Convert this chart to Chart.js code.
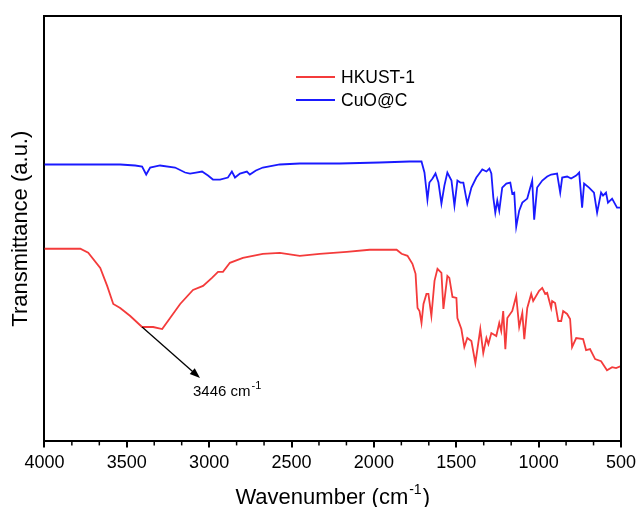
<!DOCTYPE html>
<html>
<head>
<meta charset="utf-8">
<script src="https://cdn.jsdelivr.net/npm/chart.js@4"></script>
<style>
  html, body { margin: 0; padding: 0; background: #fff; }
  #wrap { width: 638px; height: 507px; }
</style>
</head>
<body>
<div id="wrap"><canvas id="grafico" width="638" height="507"></canvas></div>
<script>
// FTIR spectra, transmittance in arbitrary units (curves offset)
const seriesNames = ['HKUST-1', 'CuO@C'];
const xTicks = [4000, 3500, 3000, 2500, 2000, 1500, 1000, 500];

const hkustWn = [4000, 3782, 3734, 3661, 3619, 3582, 3540, 3479, 3407, 3340, 3285, 3237, 3176, 3098, 3037, 2983, 2946, 2916, 2874, 2795, 2674, 2571, 2450, 2329, 2165, 2026, 1862, 1832, 1796, 1766, 1747, 1735, 1723, 1711, 1699, 1681, 1669, 1651, 1632, 1614, 1590, 1578, 1554, 1542, 1523, 1499, 1493, 1469, 1451, 1433, 1408, 1384, 1354, 1336, 1317, 1305, 1287, 1257, 1239, 1227, 1215, 1202, 1190, 1160, 1136, 1118, 1099, 1087, 1069, 1045, 1033, 997, 978, 960, 948, 924, 918, 900, 881, 863, 851, 827, 809, 797, 772, 730, 712, 688, 657, 621, 585, 554, 530, 500];
const hkustT = [190, 190, 186, 171, 153, 135, 131, 123, 112, 112, 110, 121, 135, 149, 153, 161, 167, 167, 176, 181, 185, 186, 183, 185, 187, 189, 189, 185, 183, 175, 165, 131, 128, 116, 135, 145, 145, 123, 158, 170, 166, 130, 163, 161, 142, 141, 121, 110, 92, 101, 98, 76, 110, 86, 101, 95, 106, 103, 116, 108, 128, 90, 121, 128, 143, 112, 126, 100, 131, 145, 138, 148, 151, 145, 146, 131, 138, 136, 118, 118, 128, 125, 120, 92, 101, 100, 89, 90, 80, 78, 69, 72, 71, 73];

const cuoWn = [4000, 3782, 3540, 3449, 3407, 3382, 3358, 3298, 3207, 3146, 3116, 3080, 3043, 3007, 2977, 2934, 2886, 2862, 2843, 2813, 2771, 2753, 2716, 2674, 2571, 2450, 2208, 1965, 1784, 1711, 1693, 1675, 1663, 1644, 1626, 1608, 1590, 1572, 1554, 1529, 1511, 1493, 1475, 1457, 1433, 1408, 1378, 1360, 1342, 1317, 1299, 1287, 1275, 1263, 1251, 1239, 1221, 1196, 1172, 1160, 1148, 1136, 1118, 1099, 1069, 1039, 1027, 1009, 978, 948, 924, 888, 869, 857, 827, 803, 772, 754, 736, 724, 694, 664, 645, 621, 609, 591, 579, 554, 524, 500];
const cuoT = [274, 274, 274, 273, 272, 264, 271, 273, 271, 266, 265, 266, 267, 263, 259, 259, 261, 267, 261, 265, 267, 264, 268, 271, 274, 275, 275, 276, 277, 277, 266, 239, 256, 260, 265, 256, 235, 253, 266, 258, 233, 258, 256, 256, 235, 251, 261, 265, 269, 267, 270, 265, 241, 226, 238, 228, 251, 255, 256, 245, 246, 212, 228, 236, 240, 258, 219, 251, 258, 262, 264, 265, 246, 261, 262, 260, 263, 266, 231, 255, 251, 246, 226, 246, 243, 246, 236, 240, 231, 231];

const lineColors = ['#f43b3b', '#1a1aff'];
const FONT = "'Liberation Sans', Arial, sans-serif";

function toPoints(xs, ys) {
  return xs.map((x, i) => ({ x: x, y: ys[i] }));
}

// top/right frame, minor ticks, x title, legend and the 3446 annotation
const extras = {
  id: 'extras',
  afterDraw(chart) {
    const ctx = chart.ctx;
    const a = chart.chartArea;
    const xs = chart.scales.x;
    ctx.save();
    ctx.strokeStyle = '#000';
    ctx.lineWidth = 2;
    ctx.beginPath();
    ctx.moveTo(a.left, a.top);
    ctx.lineTo(a.right, a.top);
    ctx.lineTo(a.right, a.bottom);
    ctx.stroke();

    // minor ticks
    ctx.lineWidth = 1.5;
    for (let k = 1; k < 21; k++) {
      if (k % 3 === 0) continue;
      const px = xs.getPixelForValue(4000 - k * 500 / 3);
      ctx.beginPath();
      ctx.moveTo(px, a.bottom);
      ctx.lineTo(px, a.bottom + 4);
      ctx.stroke();
    }

    // x axis title with superscript
    ctx.fillStyle = '#000';
    ctx.textBaseline = 'alphabetic';
    ctx.font = '22px ' + FONT;
    const t1 = 'Wavenumber (cm', t3 = ')';
    const w1 = ctx.measureText(t1).width, w3 = ctx.measureText(t3).width;
    ctx.font = '14px ' + FONT;
    const w2 = ctx.measureText('-1').width;
    const cx = (a.left + a.right) / 2;
    let tx = cx - (w1 + w2 + w3 + 2) / 2;
    const ty = 504;
    ctx.font = '22px ' + FONT;
    ctx.fillText(t1, tx, ty);
    ctx.font = '14px ' + FONT;
    ctx.fillText('-1', tx + w1 + 1, ty - 10);
    ctx.font = '22px ' + FONT;
    ctx.fillText(t3, tx + w1 + w2 + 2, ty);

    // legend
    ctx.font = '17.5px ' + FONT;
    ctx.textBaseline = 'middle';
    seriesNames.forEach((name, i) => {
      const y = 77 + i * 23;
      ctx.strokeStyle = lineColors[i];
      ctx.lineWidth = 1.8;
      ctx.beginPath();
      ctx.moveTo(296, y);
      ctx.lineTo(335, y);
      ctx.stroke();
      ctx.fillText(name, 341, y + 1);
    });

    // arrow annotation
    const x0 = xs.getPixelForValue(3407);
    const y0 = chart.scales.y.getPixelForValue(112);
    const x1 = 200, y1 = 378;
    ctx.strokeStyle = '#000';
    ctx.lineWidth = 1.3;
    ctx.beginPath();
    ctx.moveTo(x0, y0);
    ctx.lineTo(x1 - 4, y1 - 3.5);
    ctx.stroke();
    const ang = Math.atan2(y1 - y0, x1 - x0);
    ctx.beginPath();
    ctx.moveTo(x1, y1);
    ctx.lineTo(x1 - 11 * Math.cos(ang - 0.35), y1 - 11 * Math.sin(ang - 0.35));
    ctx.lineTo(x1 - 11 * Math.cos(ang + 0.35), y1 - 11 * Math.sin(ang + 0.35));
    ctx.closePath();
    ctx.fill();

    ctx.font = '15px ' + FONT;
    ctx.textBaseline = 'alphabetic';
    const lab = '3446 cm';
    ctx.fillText(lab, 193, 396);
    const w = ctx.measureText(lab).width;
    ctx.font = '11px ' + FONT;
    ctx.fillText('-1', 193 + w + 1, 389);
    ctx.restore();
  }
};

new Chart(document.getElementById('grafico').getContext('2d'), {
  type: 'line',
  data: {
    datasets: [
      {
        label: seriesNames[0],
        data: toPoints(hkustWn, hkustT),
        borderColor: lineColors[0],
        borderWidth: 1.8,
        pointRadius: 0,
        tension: 0
      },
      {
        label: seriesNames[1],
        data: toPoints(cuoWn, cuoT),
        borderColor: lineColors[1],
        borderWidth: 1.8,
        pointRadius: 0,
        tension: 0
      }
    ]
  },
  options: {
    responsive: false,
    animation: false,
    layout: { padding: { top: 16, right: 0, left: 8, bottom: 28 } },
    plugins: {
      legend: { display: false },
      tooltip: { enabled: false }
    },
    scales: {
      x: {
        type: 'linear',
        reverse: true,
        min: 500,
        max: 4000,
        afterBuildTicks(scale) {
          scale.ticks = xTicks.map(v => ({ value: v }));
        },
        afterFit(scale) {
          scale.paddingRight = 17;
        },
        ticks: {
          color: '#000',
          font: { family: FONT, size: 18 },
          padding: 5,
          maxRotation: 0,
          autoSkip: false,
          callback: v => String(v)
        },
        grid: {
          drawOnChartArea: false,
          drawTicks: true,
          tickLength: 6,
          color: '#000',
          lineWidth: 2
        },
        border: { color: '#000', width: 2 },
        title: { display: false }
      },
      y: {
        min: -2,
        max: 422,
        ticks: { display: false },
        grid: { display: false, drawTicks: false },
        border: { color: '#000', width: 2 },
        title: {
          display: true,
          text: 'Transmittance (a.u.)',
          color: '#000',
          font: { family: FONT, size: 22 },
          padding: { top: 0, bottom: 10 }
        }
      }
    }
  },
  plugins: [extras]
});
</script>
</body>
</html>
